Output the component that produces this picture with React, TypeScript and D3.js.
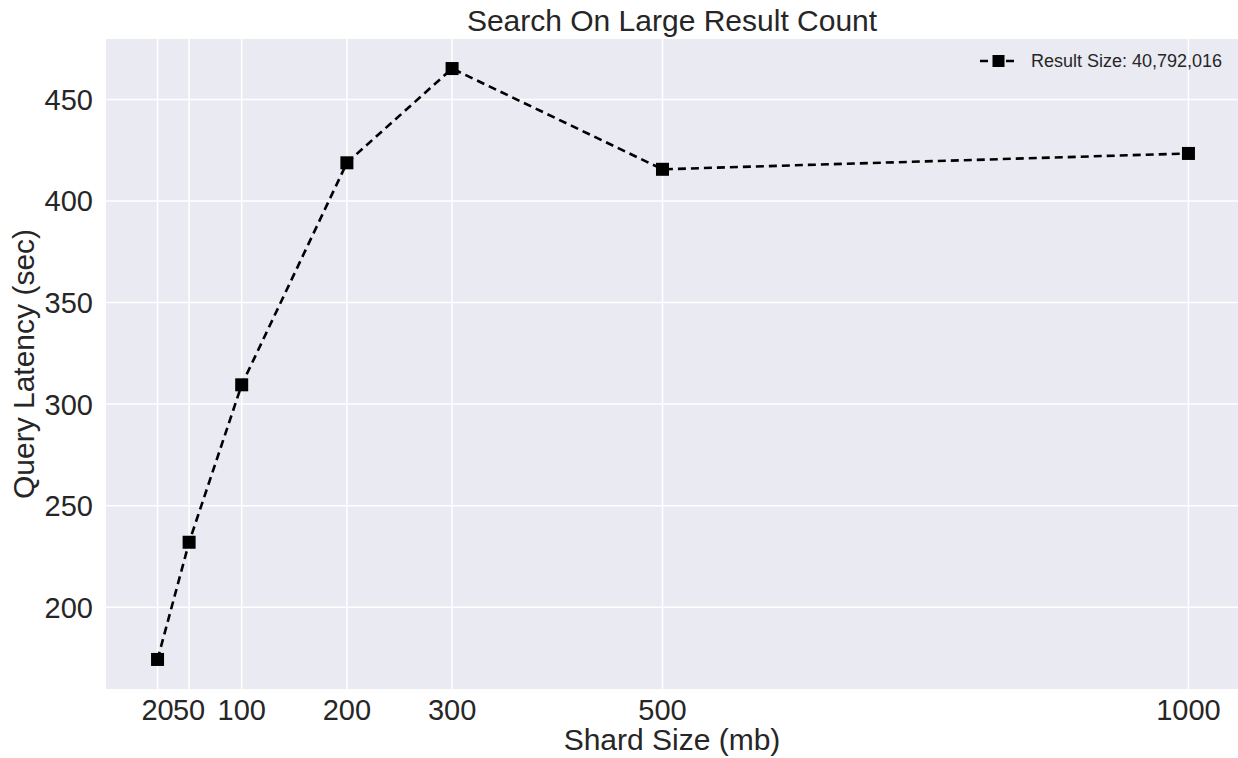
import React from "react";
import * as d3 from "d3";

const shardSizes = [20, 50, 100, 200, 300, 500, 1000];
const latencies = [174.3, 232, 309.5, 418.8, 465.2, 415.6, 423.4];
const yTicks = [200, 250, 300, 350, 400, 450];
const seriesLabel = "Result Size: 40,792,016";

const W = 1238, H = 758;
const M = { top: 39, right: 0, bottom: 69, left: 106 };
const FONT = "'Liberation Sans', Arial, Helvetica, sans-serif";

export default function App() {
  const xExt = d3.extent(shardSizes) as [number, number];
  const yExt = d3.extent(latencies) as [number, number];
  const xPad = (xExt[1] - xExt[0]) * 0.05;
  const yPad = (yExt[1] - yExt[0]) * 0.05;
  const x = d3.scaleLinear().domain([xExt[0] - xPad, xExt[1] + xPad]).range([M.left, 1240]);
  const y = d3.scaleLinear().domain([yExt[0] - yPad, yExt[1] + yPad]).range([H - M.bottom, M.top]);
  const pts = shardSizes.map((s, i) => [s, latencies[i]] as [number, number]);
  const line = d3.line<[number, number]>().x((d) => x(d[0])).y((d) => y(d[1]));
  const plotW = W - M.left - M.right;
  const plotH = H - M.top - M.bottom;
  const ms = 13;

  return (
    <svg width={W} height={H} style={{ position: "absolute", left: 0, top: 0, display: "block", background: "#fff" }} fontFamily={FONT}>
      <rect x={M.left} y={M.top} width={plotW} height={plotH} fill="#EAEAF2" />
      {/* grid */}
      {shardSizes.map((t) => (
        <line key={"gx" + t} x1={x(t)} x2={x(t)} y1={M.top} y2={H - M.bottom} stroke="#fff" strokeWidth={1.5} />
      ))}
      {yTicks.map((t) => (
        <line key={"gy" + t} x1={M.left} x2={W - M.right} y1={y(t)} y2={y(t)} stroke="#fff" strokeWidth={1.5} />
      ))}
      {/* ticks */}
      {shardSizes.map((t) => (
        <text key={"tx" + t} x={x(t)} y={720} textAnchor="middle" fontSize={29} fill="#262626">{t}</text>
      ))}
      {yTicks.map((t) => (
        <text key={"ty" + t} x={M.left - 13} y={y(t) + 10.5} textAnchor="end" fontSize={29} fill="#262626">{t}</text>
      ))}
      {/* series */}
      <path d={line(pts) ?? ""} fill="none" stroke="#000" strokeWidth={2.6} strokeDasharray="8,5" />
      {pts.map((d, i) => (
        <rect key={"m" + i} x={x(d[0]) - ms / 2} y={y(d[1]) - ms / 2} width={ms} height={ms} fill="#000" />
      ))}
      {/* legend */}
      <line x1={980} x2={1017} y1={61} y2={61} stroke="#000" strokeWidth={2.6} strokeDasharray="8,5" />
      <rect x={998.5 - 6} y={61 - 6} width={12} height={12} fill="#000" />
      <text x={1031} y={67} fontSize={18} fill="#262626">{seriesLabel}</text>
      {/* labels */}
      <text x={M.left + plotW / 2} y={31} textAnchor="middle" fontSize={30} fill="#262626">Search On Large Result Count</text>
      <text x={M.left + plotW / 2} y={750} textAnchor="middle" fontSize={30} fill="#262626">Shard Size (mb)</text>
      <text transform={`translate(34,${M.top + plotH / 2}) rotate(-90)`} textAnchor="middle" fontSize={30} fill="#262626">Query Latency (sec)</text>
    </svg>
  );
}
